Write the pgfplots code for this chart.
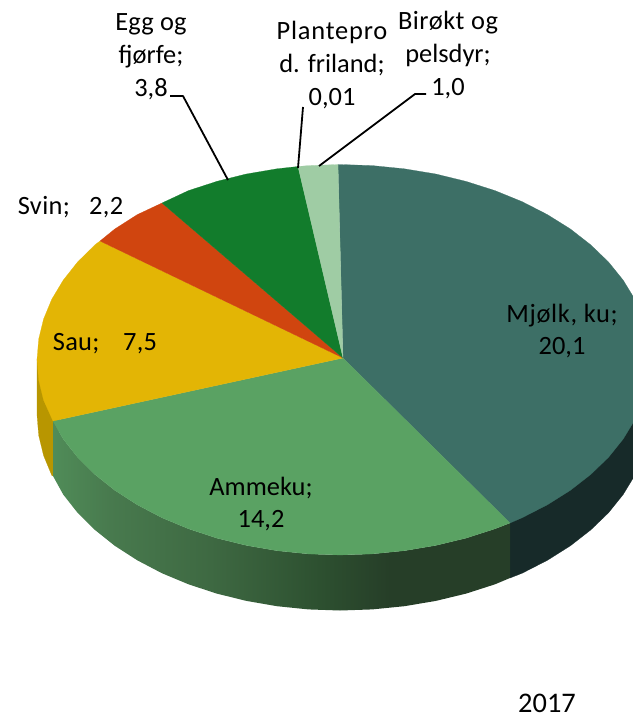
\documentclass[border=0pt]{standalone}
\usepackage{pgfplots}
\pgfplotsset{compat=1.18}
\usepackage{fontspec}
\setmainfont{Carlito}
\definecolor{cMjolk}{RGB}{61,111,102}
\definecolor{cAmme}{RGB}{90,162,99}
\definecolor{cSau}{RGB}{227,181,5}
\definecolor{cSvin}{RGB}{208,69,15}
\definecolor{cEgg}{RGB}{18,124,44}
\definecolor{cPlante}{RGB}{159,204,164}
\definecolor{sMjolk}{RGB}{23,42,41}
\definecolor{sSau}{RGB}{184,150,0}
\definecolor{gA}{RGB}{80,140,88}
\definecolor{gB}{RGB}{72,122,78}
\definecolor{gC}{RGB}{62,105,66}
\definecolor{gD}{RGB}{45,80,48}
\definecolor{gE}{RGB}{38,62,40}
\pgfdeclarehorizontalshading{greenside}{100bp}{color(0bp)=(gA); color(25bp)=(gA); color(31.2bp)=(gB); color(42.2bp)=(gC); color(54.2bp)=(gD); color(61.9bp)=(gE); color(100bp)=(gE)}
\tikzset{lab/.style={align=center, text=black, font=\fontsize{26.5}{33}\selectfont, inner sep=0pt}}
\begin{document}
\begin{tikzpicture}
\useasboundingbox (0,0) rectangle (633bp,718bp);
\begin{axis}[
  at={(0,0)}, anchor=south west,
  scale only axis, width=633bp, height=718bp,
  xmin=0, xmax=633, ymin=0, ymax=718, y dir=reverse,
  hide axis, clip=true,
]
% side walls
\addplot[fill=sMjolk, draw=sMjolk, line width=0.2pt] coordinates {
 (510,523)(650,359.5)(650,415)(648.3,435.4)(643.2,455.6)(634.8,475.4)(623.2,494.5)(608.5,512.8)(590.8,529.9)(570.4,545.8)(547.4,560.3)(522.2,573.2)(510,578)} -- cycle;
\addplot[fill=sSau, draw=sSau, line width=0.2pt] coordinates {
 (37,359.5)(60,421)(53,476)(51.8,475.4)(43.6,455.6)(38.7,435.4)(37,415)} -- cycle;
\addplot[shading=greenside, draw=none] coordinates {
 (510,523)(495,528.8)(466.1,538.1)(435.8,545.4)(404.4,550.7)(372.4,553.9)(340,555)(308.3,553.9)(277,550.7)(246.4,545.4)(216.8,538.1)(188.5,528.8)(161.9,517.7)(137.3,504.8)(114.8,490.3)(94.9,474.4)(77.6,457.3)(63.2,439)(53,421)
 (53,476)(63.2,494.5)(77.6,512.8)(94.9,529.9)(114.8,545.8)(137.3,560.3)(161.9,573.2)(188.5,584.3)(216.8,593.6)(246.4,600.9)(277,606.2)(308.3,609.4)(340,610.5)(372.4,609.4)(404.4,606.2)(435.8,600.9)(466.1,593.6)(495,584.3)(510,578)} -- cycle;
% top faces
\addplot[fill=cMjolk, draw=cMjolk, line width=0.2pt] coordinates {
 (343,358)(338,164.5)(340,164.5)(372.4,165.6)(404.4,168.8)(435.8,174)(466.1,181.4)(495,190.6)(522.2,201.7)(547.4,214.6)(570.4,229)(590.8,244.9)(608.5,262)(623.2,280.2)(634.8,299.2)(643.2,319)(648.3,339.1)(650,359.5)(648.3,379.9)(643.2,400.1)(634.8,419.9)(623.2,439)(608.5,457.3)(590.8,474.4)(570.4,490.3)(547.4,504.8)(522.2,517.7)(510,523)} -- cycle;
\addplot[fill=cAmme, draw=cAmme, line width=0.2pt] coordinates {
 (343,358)(510,523)(495,528.8)(466.1,538.1)(435.8,545.4)(404.4,550.7)(372.4,553.9)(340,555)(308.3,553.9)(277,550.7)(246.4,545.4)(216.8,538.1)(188.5,528.8)(161.9,517.7)(137.3,504.8)(114.8,490.3)(94.9,474.4)(77.6,457.3)(63.2,439)(53,421)} -- cycle;
\addplot[fill=cSau, draw=cSau, line width=0.2pt] coordinates {
 (343,358)(53,421)(43.6,400.1)(38.7,379.9)(37,359.5)(38.7,339.1)(43.6,319)(51.8,299.2)(63.2,280.2)(77.6,262)(94.9,244.9)(100,241)} -- cycle;
\addplot[fill=cSvin, draw=cSvin, line width=0.2pt] coordinates {
 (343,358)(100,241)(114.8,229)(137.3,214.6)(162,203)} -- cycle;
\addplot[fill=cEgg, draw=cEgg, line width=0.2pt] coordinates {
 (343,358)(162,203)(188.5,190.6)(216.8,181.4)(246.4,174)(277,168.8)(298,166.5)} -- cycle;
\addplot[fill=cPlante, draw=cPlante, line width=0.2pt] coordinates {
 (343,358)(298,166.5)(308.3,165.6)(338,164.5)} -- cycle;
% leader lines
\addplot[black, line width=1.8pt, line join=round] coordinates {(170,96)(183,96)(228,180)};
\addplot[black, line width=1.8pt] coordinates {(303,107)(298,168)};
\addplot[black, line width=1.8pt, line join=round] coordinates {(426,94)(415,94)(319,166)};
% labels
\node[lab] at (axis cs:562,331) {\addfontfeatures{LetterSpace=2.5}Mjølk, ku;\\20,1};
\node[lab] at (axis cs:261,504) {Ammeku;\\14,2};
\node[lab] at (axis cs:105,344) {\addfontfeatures{LetterSpace=1}Sau;\hspace{0.9em}7,5};
\node[lab] at (axis cs:70.5,207) {\addfontfeatures{LetterSpace=1.5}Svin;\hspace{0.72em}2,2};
\node[lab] at (axis cs:151,57) {\addfontfeatures{LetterSpace=1}Egg og\\fjørfe;\\3,8};
\node[lab] at (axis cs:332,65) {\addfontfeatures{LetterSpace=3}Plantepro\\d. friland;\\0,01};
\node[lab] at (axis cs:448,55) {\addfontfeatures{LetterSpace=2}Birøkt og\\pelsdyr;\\1,0};
\node[lab, font=\fontsize{28.5}{33}\selectfont] at (axis cs:547,703) {2017};
\end{axis}
\end{tikzpicture}
\end{document}
